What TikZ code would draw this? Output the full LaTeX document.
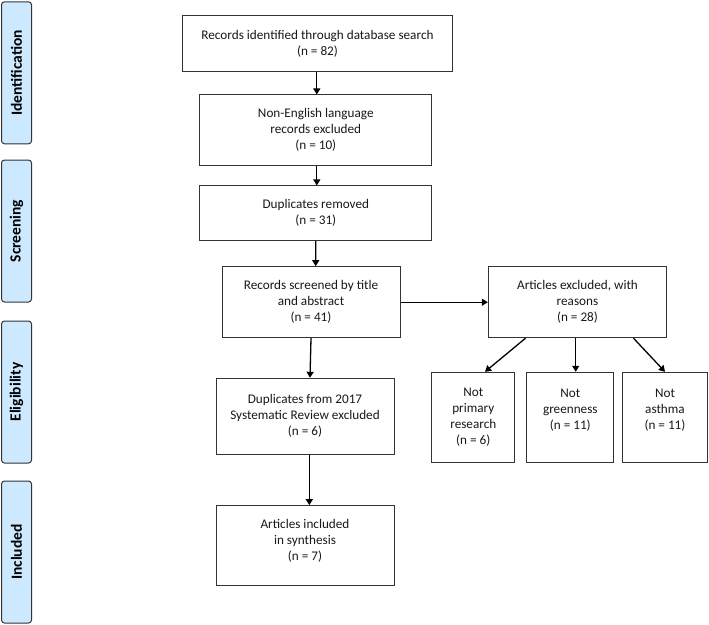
\documentclass[tikz,border=0pt]{standalone}
\usepackage{fontspec}
\setmainfont{Carlito}
\usetikzlibrary{arrows.meta,calc}
\definecolor{barfill}{HTML}{CCE9FF}
\definecolor{edge}{HTML}{333333}
\begin{document}
\begin{tikzpicture}[x=1pt,y=-1pt,
  box/.style={draw=edge,line width=1pt,fill=white,align=center,inner sep=0pt,
    font=\fontsize{13.2}{16}\selectfont,text=black!90},
  bar/.style={draw=edge,line width=1pt,fill=barfill,rounded corners=3pt,
    minimum width=30pt,minimum height=142pt,inner sep=0pt},
  bartext/.style={rotate=90,font=\fontsize{15.5}{18}\selectfont\bfseries},
  arr/.style={draw=black,line width=1.3pt,-{Triangle[length=6pt,width=7pt]}}]
\useasboundingbox (0,0) rectangle (709,624);
% phase bars
\node[bar] (pid) at (16.5,72.8) {};
\node[bartext] at (pid) {Identification};
\node[bar] (pscr) at (16.5,231) {};
\node[bartext] at (pscr) {Screening};
\node[bar] (pel) at (16.5,392) {};
\node[bartext] at (pel) {Eligibility};
\node[bar] (pinc) at (16.5,552) {};
\node[bartext] at (pinc) {Included};
% boxes
\node[box,minimum width=270.4pt,minimum height=56.4pt] (b1) at (317.5,43.5)
  {Records identified through database search\\(n = 82)};
\node[box,minimum width=231.7pt,minimum height=70.7pt] (b2) at (315.8,130.3)
  {Non-English language\\records excluded\\(n = 10)};
\node[box,minimum width=231.7pt,minimum height=54.7pt] (b3) at (315.8,213.3)
  {Duplicates removed\\(n = 31)};
\node[box,minimum width=178pt,minimum height=71pt] (b4) at (311,302.2)
  {Records screened by title\\and abstract\\(n = 41)};
\node[box,minimum width=178.4pt,minimum height=71pt] (b5) at (577.5,302.2)
  {Articles excluded, with\\reasons\\(n = 28)};
\node[box,minimum width=178pt,minimum height=76pt] (b6) at (305,416.3)
  {Duplicates from 2017\\Systematic Review excluded\\(n = 6)};
\node[box,minimum width=178pt,minimum height=80.3pt] (b7) at (305,545.8) {};
\node[box,draw=none,fill=none] at ($(b7)+(0,-5)$)
  {Articles included\\in synthesis\\(n = 7)};
\node[box,minimum width=83.3pt,minimum height=90.4pt] (np) at (473.3,417.5)
  {Not\\primary\\research\\(n = 6)};
\node[box,minimum width=87.3pt,minimum height=90.4pt] (ng) at (570.3,417.5)
  {Not\\greenness\\(n = 11)\\\mbox{}};
\node[box,minimum width=84.6pt,minimum height=90.4pt] (na) at (665,417.5)
  {Not\\asthma\\(n = 11)\\\mbox{}};
% connectors
\draw[arr] (b2.north |- b1.south) ++(1,0) -- ($(b2.north)+(1,0)$);
\draw[arr] ($(b2.south)+(1,0)$) -- ($(b3.north)+(1,0)$);
\draw[arr] ($(b3.south)+(0,0)$) -- ($(b4.north)+(4.7,0)$);
\draw[arr] (b4.east) -- (b5.west);
\draw[arr] (b4.south) -- ($(b6.north)+(5,0)$);
\draw[arr] ($(b6.south)+(4.3,0)$) -- ($(b7.north)+(4.3,0)$);
\draw[arr] ($(b5.south west)+(37.7,0)$) -- ($(np.north)+(11.7,0)$);
\draw[arr] (b5.south -| ng.north) ++(5.4,0) -- ($(ng.north)+(5.4,0)$);
\draw[arr] ($(b5.south east)+(-33.7,0)$) -- (na.north);
\end{tikzpicture}
\end{document}
